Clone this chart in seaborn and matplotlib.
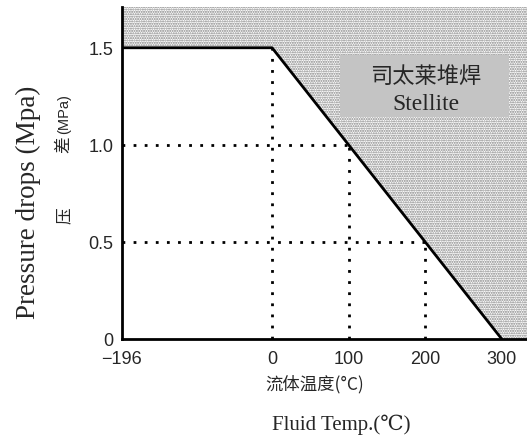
import matplotlib

matplotlib.use("Agg")
import matplotlib.pyplot as plt
import numpy as np
import seaborn as sns
from matplotlib.patches import Rectangle

# limit curve for Stellite overlay
TEMPS = [-196, 0, 300]
PRESSURE = [1.5, 1.5, 0.0]

# dotted guide lines: (temperature, pressure) on the limit curve
GUIDE_TEMPS = [0, 100, 200]
GUIDE_PRESSURE = [1.5, 1.0, 0.5]

X_TICKS = [-196, 0, 100, 200, 300]
X_TICK_LABELS = ["\u2212196", "0", "100", "200", "300"]
Y_TICKS = [0, 0.5, 1.0, 1.5]
Y_TICK_LABELS = ["0", "0.5", "1.0", "1.5"]

X_MIN, X_MAX = -196, 333
Y_MIN, Y_MAX = 0, 1.71

SANS = ["Liberation Sans", "DejaVu Sans"]
SERIF = ["Liberation Serif", "DejaVu Serif"]
CJK = ["Noto Sans CJK SC", "DejaVu Sans"]


def main() -> None:
    sns.set_style("white")
    plt.rcParams["hatch.color"] = "#808080"
    plt.rcParams["hatch.linewidth"] = 1.0

    fig = plt.figure(figsize=(5.27, 4.39), dpi=100)
    ax = fig.add_axes([122 / 527, 1 - 340 / 439, 1 - 122 / 527, 332 / 439])

    # shaded region above the limit curve
    xs = np.array(TEMPS + [X_MAX])
    ys = np.interp(xs, [TEMPS[1], TEMPS[2]], [PRESSURE[1], PRESSURE[2]])
    ys = np.where(xs <= TEMPS[1], PRESSURE[0], ys)
    ys = np.clip(ys, 0, None)
    ax.fill_between(xs, ys, Y_MAX, facecolor="white", hatch=".......",
                    edgecolor="#808080", linewidth=0)

    sns.lineplot(x=TEMPS, y=PRESSURE, sort=False, color="black",
                 linewidth=2, ax=ax)

    for t, p in zip(GUIDE_TEMPS, GUIDE_PRESSURE):
        ax.plot([t, t], [0, p], color="black", linestyle=(0, (1, 3)),
                linewidth=2)
        if p < PRESSURE[0]:
            ax.plot([X_MIN, t], [p, p], color="black",
                    linestyle=(0, (1, 3)), linewidth=2)

    ax.set_xlim(X_MIN, X_MAX)
    ax.set_ylim(Y_MIN, Y_MAX)
    ax.set_xticks(X_TICKS)
    ax.set_xticklabels(X_TICK_LABELS, family=SANS, fontsize=13)
    ax.set_yticks(Y_TICKS)
    ax.set_yticklabels(Y_TICK_LABELS, family=SANS, fontsize=13)
    ax.tick_params(axis="x", length=0, pad=8)
    ax.tick_params(axis="y", length=0, pad=6)
    for side in ["top", "right"]:
        ax.spines[side].set_visible(False)
    for side in ["left", "bottom"]:
        ax.spines[side].set_color("black")
        ax.spines[side].set_linewidth(2)

    # label box
    ax.add_patch(Rectangle((0.538, 0.67), 0.417, 0.185,
                           transform=ax.transAxes, facecolor="#c4c4c4",
                           edgecolor="none", zorder=3))
    ax.text(0.75, 0.795, "司太莱堆焊", transform=ax.transAxes,
            family=CJK, fontsize=16, ha="center", va="center", zorder=4)
    ax.text(0.75, 0.71, "Stellite", transform=ax.transAxes,
            family=SERIF, fontsize=17, ha="center", va="center", zorder=4)

    # axis titles
    fig.text(28 / 527, 1 - 202 / 439, "Pressure drops (Mpa)", family=SERIF,
             fontsize=19.5, rotation=90, ha="center", va="center")
    fig.text(64 / 527, 1 - 216 / 439, "压", family=CJK, fontsize=12,
             rotation=90, ha="center", va="center")
    fig.text(64 / 527, 1 - 145 / 439, "差", family=CJK, fontsize=12,
             rotation=90, ha="center", va="center")
    fig.text(64 / 527, 1 - 114 / 439, "(MPa)", family=SANS, fontsize=10.5,
             rotation=90, ha="center", va="center")
    fig.text(315 / 527, 1 - 384 / 439, "流体温度(°C)", family=CJK,
             fontsize=12.5, ha="center", va="center")
    fig.text(341 / 527, 1 - 425 / 439, "Fluid Temp.(℃)",
             family=SERIF + CJK, fontsize=15, ha="center", va="center")

    fig.savefig("out.png", dpi=100)
    plt.close(fig)


if __name__ == "__main__":
    main()
